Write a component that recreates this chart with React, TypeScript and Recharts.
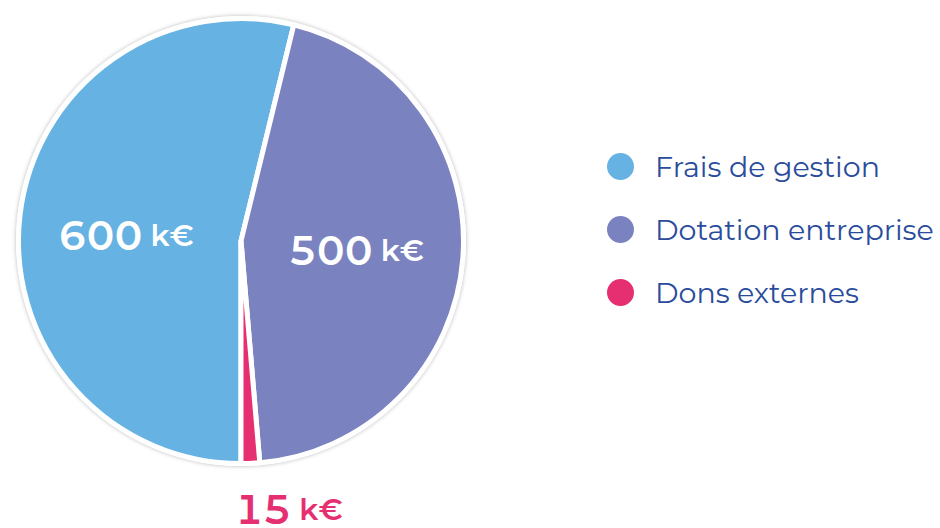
import React from 'react';
import { PieChart, Pie, Cell } from 'recharts';

const categories = ['Frais de gestion', 'Dotation entreprise', 'Dons externes'];
const amounts = [600, 500, 15];
const colors = ['#66b2e3', '#7a83c0', '#e62f70'];

const data = categories.map((name, i) => ({ name, value: amounts[i] }));

const FONT = 'Montserrat, Inter, "DejaVu Sans", sans-serif';
const RAD = Math.PI / 180;
const CX = 241;
const CY = 241;

const renderLabel = (props: any) => {
  const { cx, cy, midAngle, outerRadius, value, index } = props;
  const small = value / amounts.reduce((a, b) => a + b, 0) < 0.05;
  if (small) {
    const r = outerRadius + 46;
    const x = cx + r * Math.cos(-midAngle * RAD) - 17;
    const y = cy + r * Math.sin(-midAngle * RAD);
    return (
      <text x={x} y={y} fill={colors[index]} fontFamily={FONT} fontWeight={600} textAnchor="start" dominantBaseline="central" style={{ fontVariantNumeric: 'tabular-nums' }}>
        <tspan fontSize={40}>{value}</tspan>
        <tspan fontSize={30} dx={8}>k€</tspan>
      </text>
    );
  }
  const r = outerRadius * 0.52;
  const x = cx + r * Math.cos(-midAngle * RAD);
  // left label sits a bit lower than the pure mid-angle point
  const y = cy + r * Math.sin(-midAngle * RAD) + (index === 0 ? 8 : 0);
  return (
    <text x={x} y={y} fill="#ffffff" fontFamily={FONT} fontWeight={600} textAnchor="middle" dominantBaseline="central" style={{ fontVariantNumeric: 'tabular-nums' }}>
      <tspan fontSize={40}>{value}</tspan>
      <tspan fontSize={30} dx={8}>k€</tspan>
    </text>
  );
};

export default function App() {
  return (
    <div style={{ position: 'absolute', left: 0, top: 0, width: 940, height: 528, background: '#fff', fontFamily: FONT }}>
      {/* white rim with soft shadow behind the pie */}
      <div
        style={{
          position: 'absolute',
          left: CX - 225,
          top: CY - 225,
          width: 450,
          height: 450,
          borderRadius: '50%',
          background: '#fff',
          boxShadow: '0 0 4px rgba(0,0,0,0.28)',
        }}
      />
      <div style={{ position: 'absolute', left: 0, top: 0 }}>
        <PieChart width={940} height={528} margin={{ top: 0, right: 0, bottom: 0, left: 0 }}>
          <Pie
            data={data}
            dataKey="value"
            nameKey="name"
            cx={CX}
            cy={CY}
            outerRadius={222.5}
            startAngle={-90}
            endAngle={-450}
            stroke="#ffffff"
            strokeWidth={5}
            labelLine={false}
            label={renderLabel}
            isAnimationActive={false}
          >
            {data.map((d, i) => (
              <Cell key={d.name} fill={colors[i]} />
            ))}
          </Pie>
        </PieChart>
      </div>
      <div style={{ position: 'absolute', left: 607, top: 135 }}>
        {categories.map((name, i) => (
          <div key={name} style={{ display: 'flex', alignItems: 'center', height: 63 }}>
            <span style={{ width: 27, height: 27, borderRadius: '50%', background: colors[i], display: 'inline-block', marginRight: 21 }} />
            <span style={{ color: '#2a4c9c', fontSize: 28.5, whiteSpace: 'nowrap' }}>{name}</span>
          </div>
        ))}
      </div>
    </div>
  );
}
